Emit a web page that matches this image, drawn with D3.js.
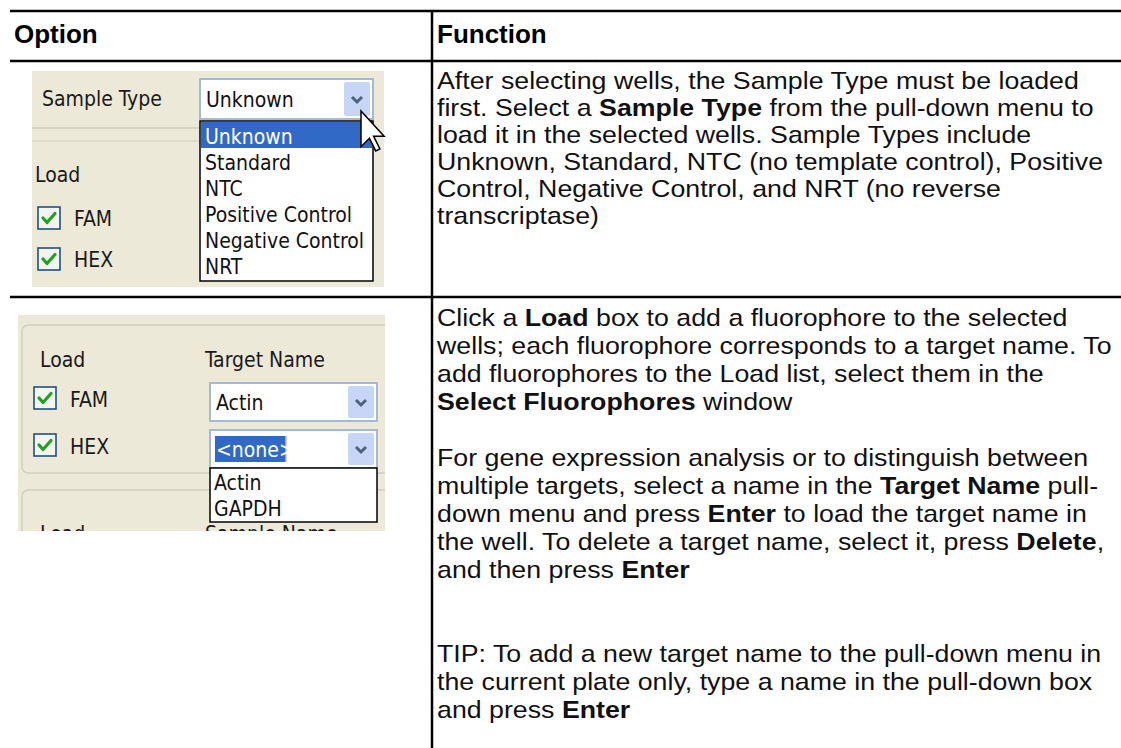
<!DOCTYPE html>
<html>
<head>
<meta charset="utf-8">
<script src="https://cdn.jsdelivr.net/npm/d3@7"></script>
<style>
  html, body { margin: 0; padding: 0; background: #fff; }
  svg { display: block; }
</style>
</head>
<body>
<script>
// ---------- data ----------
const headers = ["Option", "Function"];

// **...** marks bold runs
const row1Lines = [
  "After selecting wells, the Sample Type must be loaded",
  "first. Select a **Sample Type** from the pull-down menu to",
  "load it in the selected wells. Sample Types include",
  "Unknown, Standard, NTC (no template control), Positive",
  "Control, Negative Control, and NRT (no reverse",
  "transcriptase)"
];
const row2Lines = [
  "Click a **Load** box to add a fluorophore to the selected",
  "wells; each fluorophore corresponds to a target name. To",
  "add fluorophores to the Load list, select them in the",
  "**Select Fluorophores** window",
  "",
  "For gene expression analysis or to distinguish between",
  "multiple targets, select a name in the **Target Name** pull-",
  "down menu and press **Enter** to load the target name in",
  "the well. To delete a target name, select it, press **Delete**,",
  "and then press **Enter**",
  "",
  "",
  "TIP: To add a new target name to the pull-down menu in",
  "the current plate only, type a name in the pull-down box",
  "and press **Enter**"
];

const sampleLabel = "Sample Type";
const sampleSelected = "Unknown";
const sampleTypes = ["Unknown", "Standard", "NTC", "Positive Control", "Negative Control", "NRT"];
const loadLabel = "Load";
const fluorophores = ["FAM", "HEX"];
const targetLabel = "Target Name";
const targetValues = ["Actin", "<none>"];
const targetOptions = ["Actin", "GAPDH"];
const nextGroupLabels = ["Load", "Sample Name"];

// ---------- layout ----------
const W = 1121, H = 748;
const svg = d3.select("body").append("svg").attr("width", W).attr("height", H);

const FONT = "'Liberation Sans', Arial, Helvetica, sans-serif";
const UIFONT = "'DejaVu Sans Condensed', 'DejaVu Sans', Tahoma, sans-serif";
const UISIZE = 21;
const BEIGE = "#ece9d8";

const colX = d3.scaleOrdinal().domain(headers).range([14, 437]);
const dividerX = 432;
const ruleY = { top: 11, head: 61, row: 297 };

// table rules
svg.append("g").selectAll("line").data([ruleY.top, ruleY.head, ruleY.row]).join("line")
  .attr("x1", 10).attr("x2", W).attr("y1", d => d).attr("y2", d => d)
  .attr("stroke", "#000").attr("stroke-width", 2.5);
svg.append("line").attr("x1", dividerX).attr("x2", dividerX).attr("y1", ruleY.top).attr("y2", H)
  .attr("stroke", "#000").attr("stroke-width", 2.5);

// headers
svg.append("g").selectAll("text").data(headers).join("text")
  .attr("x", d => colX(d)).attr("y", 43)
  .attr("font-family", FONT).attr("font-weight", "bold").attr("font-size", 26)
  .attr("fill", "#000").text(d => d);

const BODYSIZE = 24, STRETCH = 1.115;
function richText(lines, yScale, x) {
  const g = svg.append("g").attr("transform", `translate(${x},0) scale(${STRETCH},1)`);
  const rows = lines.map((d, i) => ({ d, i })).filter(r => r.d !== "");
  const t = g.selectAll("text").data(rows).join("text")
    .attr("x", 0).attr("y", r => yScale(r.i))
    .attr("font-family", FONT).attr("font-size", BODYSIZE).attr("fill", "#111");
  t.each(function (r) {
    const parts = r.d.split("**");
    d3.select(this).selectAll("tspan").data(parts).join("tspan")
      .attr("font-weight", (p, i) => i % 2 ? "bold" : "normal")
      .text(p => p);
  });
}
const y1 = d3.scaleLinear().domain([0, 1]).range([89, 89 + 27]);
const y2 = d3.scaleLinear().domain([0, 1]).range([326, 326 + 28]);
richText(row1Lines, y1, colX("Function"));
richText(row2Lines, y2, colX("Function"));

// ---------- UI helpers ----------
function checkbox(g, x, y) {
  const s = 22;
  g.append("rect").attr("x", x).attr("y", y).attr("width", s).attr("height", s)
    .attr("fill", "#f4f4f0").attr("stroke", "#1c5180").attr("stroke-width", 1.6);
  g.append("path")
    .attr("d", `M${x + 5},${y + 11} L${x + 9},${y + 15.5} L${x + 17},${y + 6.5}`)
    .attr("fill", "none").attr("stroke", "#21a121").attr("stroke-width", 3.2)
    .attr("stroke-linecap", "round").attr("stroke-linejoin", "round");
}
function combo(g, x, y, w, h, label, highlight) {
  g.append("rect").attr("x", x).attr("y", y).attr("width", w).attr("height", h)
    .attr("fill", "#fff").attr("stroke", "#a5b8d6").attr("stroke-width", 2);
  const bx = x + w - 29, by = y + 3, bw = 26, bh = h - 6;
  g.append("rect").attr("x", bx).attr("y", by).attr("width", bw).attr("height", bh)
    .attr("fill", "#c7d5f6").attr("rx", 2);
  const cx = bx + bw / 2, cy = by + bh / 2 + 1;
  g.append("path").attr("d", `M${cx - 5},${cy - 3} L${cx},${cy + 2} L${cx + 5},${cy - 3}`)
    .attr("fill", "none").attr("stroke", "#4d6185").attr("stroke-width", 3);
  if (highlight) {
    g.append("rect").attr("x", x + 5).attr("y", y + 6).attr("width", 70).attr("height", h - 12)
      .attr("fill", "#3169c6");
    g.append("rect").attr("x", x + 75).attr("y", y + 6).attr("width", 1.5).attr("height", h - 12)
      .attr("fill", "#e0a030");
  }
  g.append("text").attr("x", x + 6).attr("y", y + h / 2 + 8)
    .attr("font-family", UIFONT).attr("font-size", UISIZE)
    .attr("fill", highlight ? "#fff" : "#111").text(label);
}
function uiText(g, x, y, s, fill) {
  g.append("text").attr("x", x).attr("y", y).attr("font-family", UIFONT)
    .attr("font-size", UISIZE).attr("fill", fill || "#1a1a1a").text(s);
}

// ---------- screenshot 1 ----------
const s1 = svg.append("g");
s1.append("rect").attr("x", 32).attr("y", 71).attr("width", 352).attr("height", 216).attr("fill", BEIGE);
uiText(s1, 42, 106, sampleLabel);
combo(s1, 200, 79, 173, 40, sampleSelected, false);
s1.append("line").attr("x1", 32).attr("x2", 200).attr("y1", 128).attr("y2", 128).attr("stroke", "#cfcdbd").attr("stroke-width", 1.5);
s1.append("line").attr("x1", 32).attr("x2", 200).attr("y1", 141).attr("y2", 141).attr("stroke", "#d8d5c4").attr("stroke-width", 1.5);
uiText(s1, 35, 182, loadLabel);
const cbY1 = d3.scaleLinear().domain([0, 1]).range([207, 248]);
fluorophores.forEach((f, i) => {
  checkbox(s1, 38, cbY1(i));
  uiText(s1, 74, cbY1(i) + 19, f);
});
// dropdown list
const listTop = 121, itemH = 26;
const yItem = d3.scaleLinear().domain([0, 1]).range([listTop, listTop + itemH]);
s1.append("rect").attr("x", 200).attr("y", listTop).attr("width", 173).attr("height", sampleTypes.length * itemH + 4)
  .attr("fill", "#fff").attr("stroke", "#000").attr("stroke-width", 1.5);
s1.append("rect").attr("x", 201).attr("y", listTop + 1).attr("width", 171).attr("height", itemH)
  .attr("fill", "#3169c6");
s1.append("g").selectAll("text").data(sampleTypes).join("text")
  .attr("x", 205).attr("y", (d, i) => yItem(i) + 23)
  .attr("font-family", UIFONT).attr("font-size", UISIZE)
  .attr("fill", (d, i) => i === 0 ? "#fff" : "#111").text(d => d);
// cursor
const cur = [[0, 0], [0, 17], [4, 13], [7, 19], [9, 18], [6, 12], [11, 12]];
s1.append("path").attr("d", "M" + cur.map(p => [361 + p[0] * 2.1, 111 + p[1] * 2.1].join(",")).join("L") + "Z")
  .attr("fill", "#fff").attr("stroke", "#000").attr("stroke-width", 1.5);

// ---------- screenshot 2 ----------
const s2Top = 315, s2H = 216;
const s2 = svg.append("g");
const clip = svg.append("clipPath").attr("id", "c2");
clip.append("rect").attr("x", 18).attr("y", s2Top).attr("width", 367).attr("height", s2H);
s2.attr("clip-path", "url(#c2)");
s2.append("rect").attr("x", 18).attr("y", s2Top).attr("width", 367).attr("height", s2H).attr("fill", BEIGE);
s2.append("rect").attr("x", 22).attr("y", 325).attr("width", 380).attr("height", 148).attr("rx", 6)
  .attr("fill", "none").attr("stroke", "#d0d0bf").attr("stroke-width", 1.5);
s2.append("rect").attr("x", 22).attr("y", 490).attr("width", 380).attr("height", 120).attr("rx", 6)
  .attr("fill", "none").attr("stroke", "#d0d0bf").attr("stroke-width", 1.5);
uiText(s2, 40, 367, loadLabel);
uiText(s2, 205, 367, targetLabel);
const cbY2 = d3.scaleLinear().domain([0, 1]).range([387, 434]);
fluorophores.forEach((f, i) => {
  checkbox(s2, 34, cbY2(i));
  uiText(s2, 70, cbY2(i) + 20, f);
  combo(s2, 210, cbY2(i) - 4, 167, 38, targetValues[i], i === 1);
});
// next group's labels, cut off by the screenshot edge and partly covered by the list
uiText(s2, 40, 541, nextGroupLabels[0]);
uiText(s2, 205, 541, nextGroupLabels[1]);
// target dropdown list
const tTop = 468, tH = 26;
s2.append("rect").attr("x", 210).attr("y", tTop).attr("width", 167).attr("height", targetOptions.length * tH + 2)
  .attr("fill", "#fff").attr("stroke", "#000").attr("stroke-width", 1.5);
s2.append("g").selectAll("text").data(targetOptions).join("text")
  .attr("x", 214).attr("y", (d, i) => tTop + 22 + i * tH)
  .attr("font-family", UIFONT).attr("font-size", UISIZE).attr("fill", "#111").text(d => d);
</script>
</body>
</html>
